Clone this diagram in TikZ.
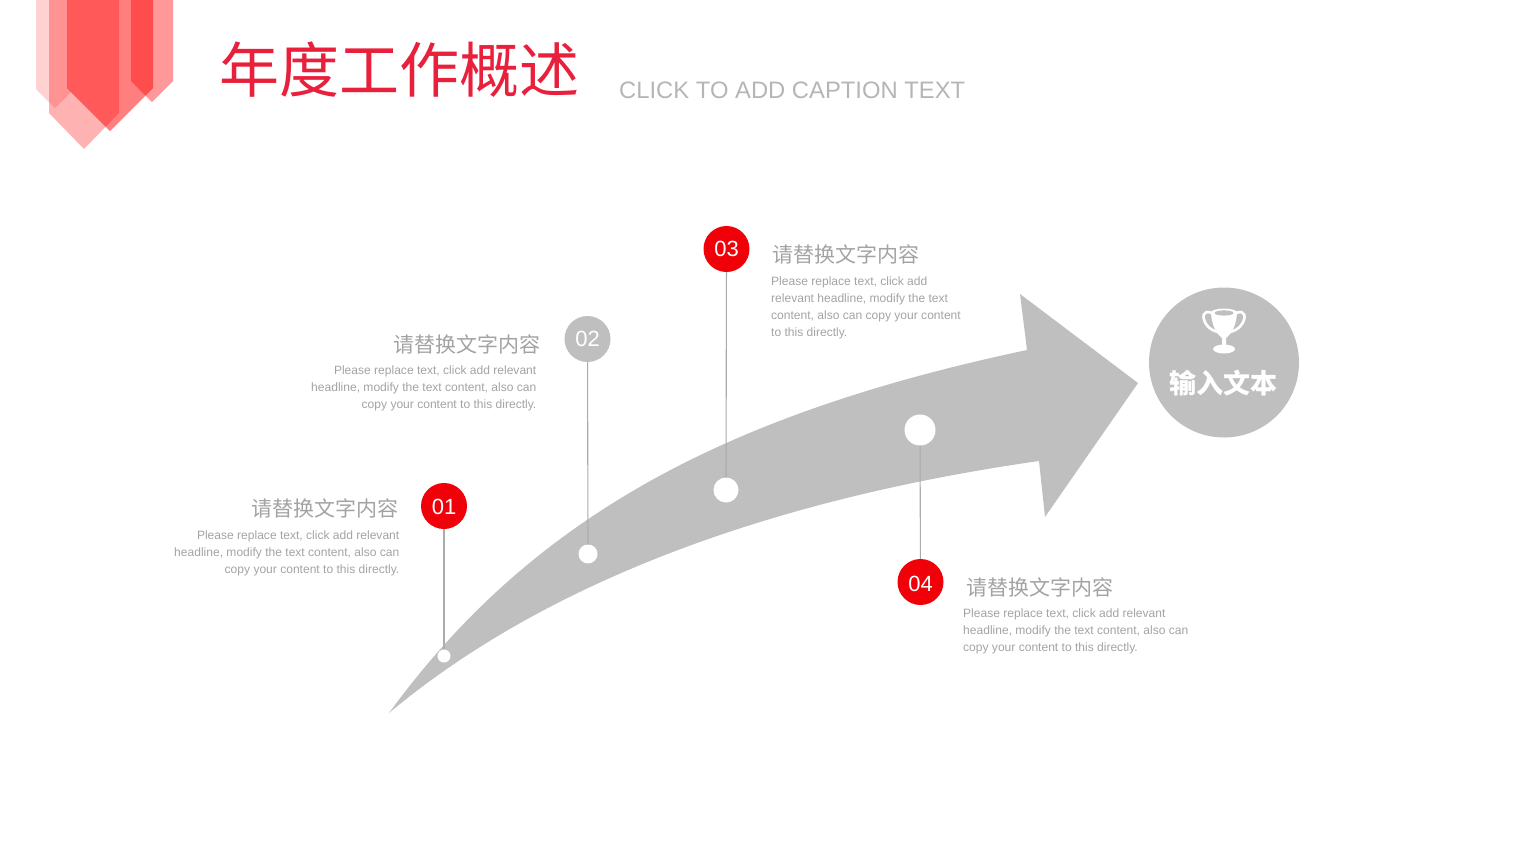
\documentclass[tikz,border=0pt]{standalone}
\usepackage{xcolor}
\usepackage{fontspec}
\setmainfont{Liberation Sans}
\newfontfamily\cjk{Noto Sans CJK SC}
\usetikzlibrary{positioning}
\definecolor{baslikKirmizi}{HTML}{E8203C}
\definecolor{koyuKirmizi}{HTML}{F00008}
\definecolor{okGri}{HTML}{BFBFBF}
\definecolor{cizgiGri}{HTML}{ABABAB}
\definecolor{yaziGri}{HTML}{A3A3A3}
\definecolor{altGri}{HTML}{B5B5B5}

\begin{document}
\begin{tikzpicture}[x=1pt,y=-1pt,
  rakam/.style={circle,fill=koyuKirmizi,minimum size=46pt,inner sep=0pt,text=white,font=\fontsize{22}{24}\selectfont},
  grirakam/.style={rakam,fill=okGri},
  nokta/.style={circle,fill=white,inner sep=0pt},
  baglanti/.style={draw=cizgiGri,line width=1.1pt},
  baslik/.style={inner sep=0pt,text=yaziGri,font=\fontsize{21}{24}\selectfont\cjk},
  metin/.style={inner sep=0pt,text=yaziGri,font=\fontsize{12.05}{17}\selectfont}]
\useasboundingbox (0,0) rectangle (1518,854);
% ribbon
\fill[red,opacity=0.18] (36,0) -- (36,89) -- (55,108) -- (71,92) -- (67,88) -- (67,0) -- cycle;
\fill[red,opacity=0.30] (49,0) -- (49,113) -- (84,149) -- (119,113) -- (119,0) -- cycle;
\fill[red,opacity=0.50] (67,0) -- (67,88) -- (110,131) -- (153,88) -- (153,0) -- cycle;
\fill[red,opacity=0.40] (131,0) -- (131,81) -- (152,102) -- (173,81) -- (173,0) -- cycle;
% title
\node[inner sep=0pt,anchor=west,text=baslikKirmizi,font=\fontsize{60}{64}\selectfont\cjk] (tBaslik) at (219.5,69.5) {年度工作概述};
\node[inner sep=0pt,anchor=west,text=altGri,font=\fontsize{23.8}{28}\selectfont] (tAlt) at (619,90.5) {CLICK TO ADD CAPTION TEXT};
% big arrow
\fill[okGri] (389,713) .. controls (530,520) and (720,415) .. (1027,350) -- (1020,294) -- (1138,383)
  -- (1045,517) -- (1039,461) .. controls (800,495) and (560,570) .. (389,713) -- cycle;
% dots and numbers
\node[nokta,minimum size=13pt] (d1) at (444,656) {};
\node[nokta,minimum size=19pt] (d2) at (588,554) {};
\node[nokta,minimum size=25pt] (d3) at (726,490) {};
\node[nokta,minimum size=31pt] (d4) at (920,430) {};
\node[rakam] (n1) at (444,506) {\raisebox{-1pt}[\height][0pt]{01}};
\node[grirakam] (n2) at (587.5,339) {02};
\node[rakam] (n3) at (726.5,249) {03};
\node[rakam] (n4) at (920.5,582) {\raisebox{-2pt}[\height][0pt]{04}};
\draw[baglanti] (n1) -- (d1);
\draw[baglanti] (n2) -- (d2);
\draw[baglanti] (n3) -- (d3);
\draw[baglanti] (d4) -- (n4);
% texts
\node[baslik,anchor=east] (b1) at (399,508) {请替换文字内容};
\node[metin,anchor=east,align=right] (m1) at (399.5,553) {Please replace text, click add relevant\\headline, modify the text content, also can\\copy your content to this directly.};
\node[baslik,anchor=east] (b2) at (541,344) {请替换文字内容};
\node[metin,anchor=east,align=right] (m2) at (536.5,388) {Please replace text, click add relevant\\headline, modify the text content, also can\\copy your content to this directly.};
\node[baslik,anchor=west] (b3) at (772,254) {请替换文字内容};
\node[metin,anchor=west,align=left] (m3) at (771,308) {Please replace text, click add\\relevant headline, modify the text\\content, also can copy your content\\to this directly.};
\node[baslik,anchor=west] (b4) at (966,587) {请替换文字内容};
\node[metin,anchor=west,align=left] (m4) at (963,631) {Please replace text, click add relevant\\headline, modify the text content, also can\\copy your content to this directly.};
% goal circle
\node[circle,fill=okGri,minimum size=150pt,inner sep=0pt] (hedef) at (1224,362.5) {};
\node[inner sep=0pt,text=white,font=\fontsize{27}{30}\selectfont\cjk\bfseries] (hedefYazi) at (1223,383) {输入文本};
% trophy
\draw[white,line width=2.6pt] (1212,313) .. controls (1202,309) and (1202,318) .. (1206,324) .. controls (1209,329) and (1214,331) .. (1218,332);
\draw[white,line width=2.6pt] (1236,313) .. controls (1246,309) and (1246,318) .. (1242,324) .. controls (1239,329) and (1234,331) .. (1230,332);
\fill[white] (1211,313) .. controls (1212,328) and (1218,335) .. (1222,338) -- (1222,345) -- (1226,345) -- (1226,338) .. controls (1230,335) and (1236,328) .. (1237,313) -- cycle;
\fill[white] (1224,349) ellipse (11 and 4.5);
\fill[white] (1224,313) ellipse (13.5 and 4.5);
\fill[okGri] (1224,313) ellipse (9.5 and 2.6);
\end{tikzpicture}
\end{document}
